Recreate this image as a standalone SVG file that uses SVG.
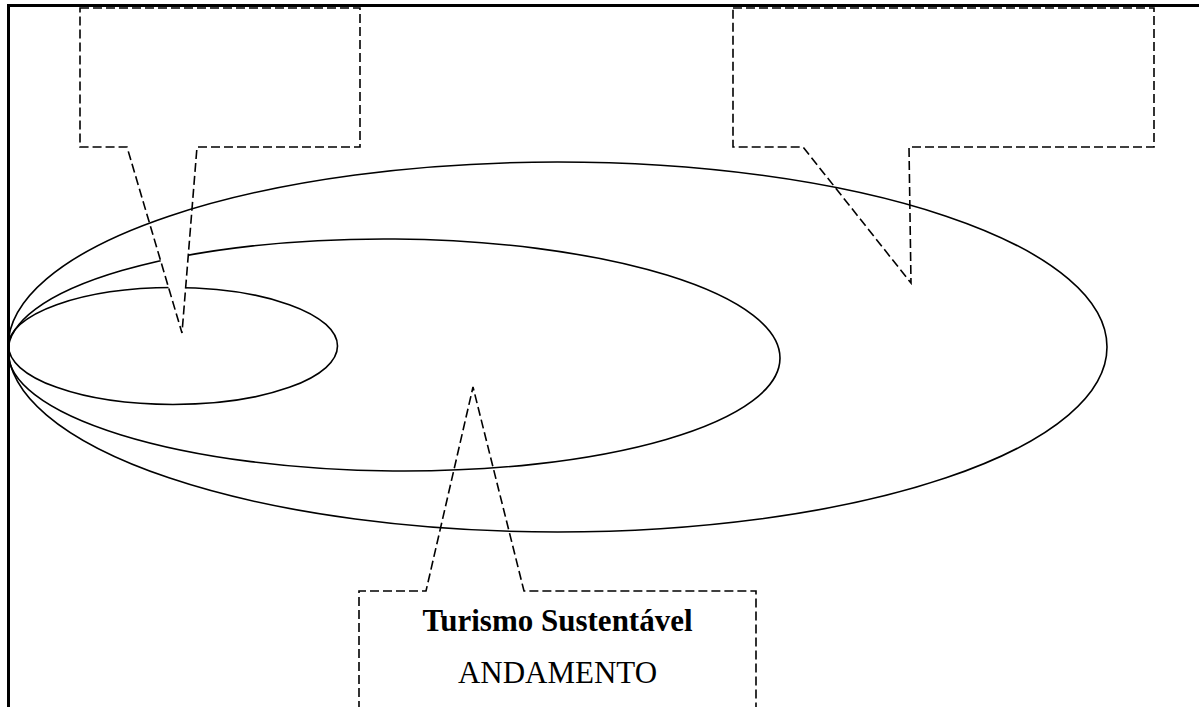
<svg xmlns="http://www.w3.org/2000/svg" width="1199" height="707" viewBox="0 0 1199 707">
<style>
.ell{fill:none;stroke:#000;stroke-width:1.6}
.call{stroke:#000;stroke-width:1.6;stroke-dasharray:9 4;stroke-linejoin:miter}
.border{stroke:#000;stroke-width:3;fill:none}
.t{font-family:"Liberation Serif","Times New Roman",serif;font-size:31px;text-anchor:middle;fill:#000}
</style>
<rect x="0" y="0" width="1199" height="707" fill="#fff"/>
<g id="middle-ellipse"><ellipse class="ell" cx="394" cy="355" rx="386" ry="116" transform="rotate(0.5 394 355)"/></g>
<g id="inner-ellipse"><ellipse class="ell" cx="173" cy="346" rx="164.5" ry="58.5"/></g>
<g id="callout-top-left"><path class="call" fill="#fff" d="M80,8 H360 V147 H197 L182,333 L127,147 H80 Z"/></g>
<g id="outer-ellipse"><ellipse class="ell" cx="557.5" cy="347" rx="549.5" ry="185"/></g>
<g id="callout-top-right"><path class="call" fill="none" d="M733,8 H1154 V147 H909 L911,283 L803,147 H733 Z"/></g>
<g id="callout-bottom">
<path class="call" fill="none" d="M359,710 V591 H426 L473,387 L524,591 H756 V710"/>
<text class="t" x="557.5" y="631" font-weight="bold">Turismo Sustentável</text>
<text class="t" x="557.5" y="683">ANDAMENTO</text>
</g>
<g id="frame">
<line class="border" x1="8.5" y1="5.5" x2="1199" y2="5.5"/>
<line class="border" x1="8.5" y1="4" x2="8.5" y2="707"/>
</g>
</svg>
